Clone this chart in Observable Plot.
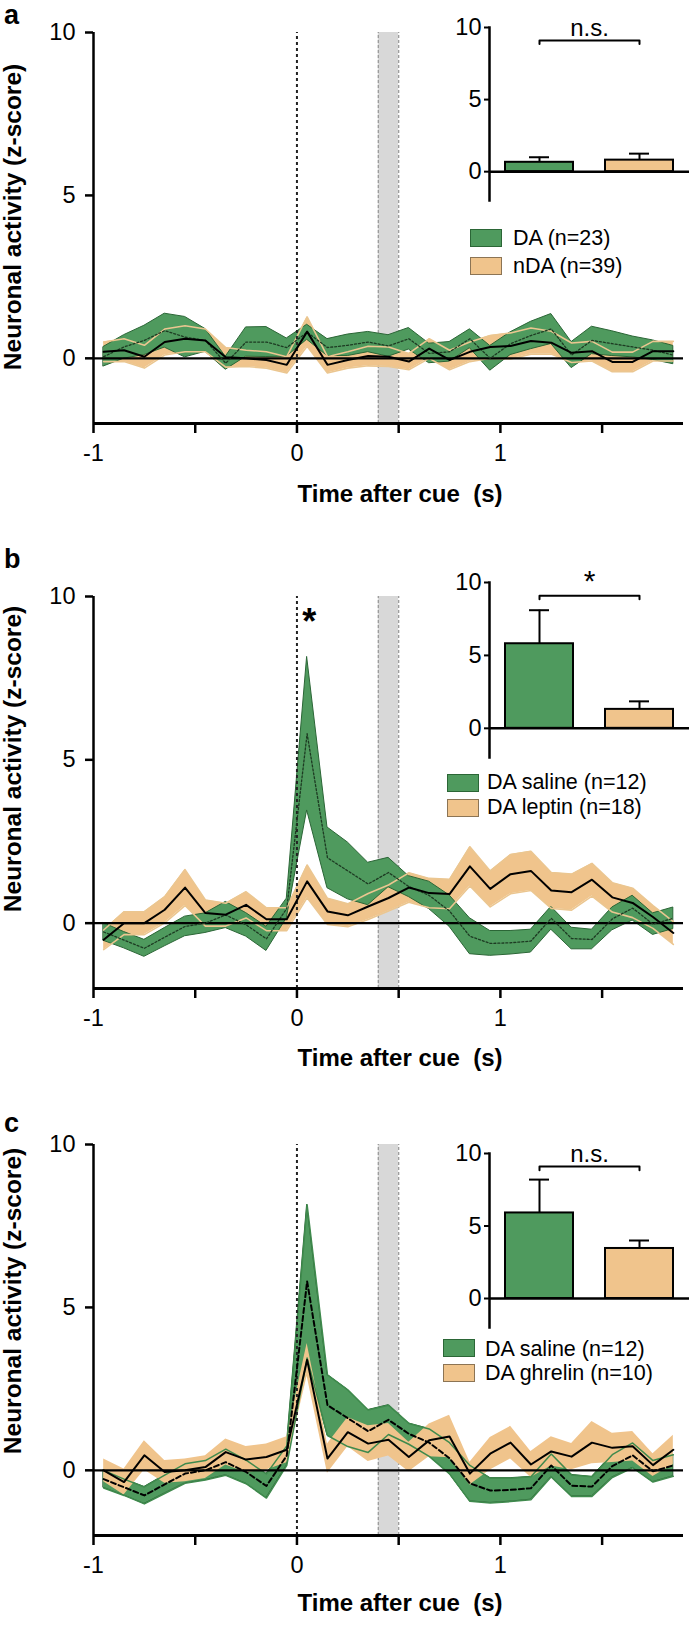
<!DOCTYPE html>
<html>
<head>
<meta charset="utf-8">
<script src="https://cdn.jsdelivr.net/npm/d3@7"></script>
<script src="https://cdn.jsdelivr.net/npm/@observablehq/plot@0.6"></script>
<style>
  body { margin: 0; background: #fff; font-family: "Liberation Sans", Arial, sans-serif; }
  #root { position: relative; width: 691px; height: 1626px; overflow: hidden; background: #fff; }
  #root > * { position: absolute; }
  .letter { font-weight: bold; font-size: 27px; line-height: 27px; }
  .xtitle { font-weight: bold; font-size: 24px; line-height: 24px; width: 300px; text-align: center; white-space: pre; }
  .ytitle { font-weight: bold; font-size: 24.5px; line-height: 26px; width: 400px; height: 26px; text-align: center; transform: rotate(-90deg); white-space: nowrap; }
  .legtext { font-size: 21.5px; line-height: 24px; white-space: nowrap; }
  .sw { box-sizing: border-box; width: 32px; height: 18px; border: 1.5px solid; }
</style>
</head>
<body>
<div id="root"></div>
<script>
// ---------------- data ----------------
const time = [-0.95, -0.85, -0.75, -0.65, -0.55, -0.45, -0.35, -0.25, -0.15, -0.05,
              0.05, 0.15, 0.25, 0.35, 0.45, 0.55, 0.65, 0.75, 0.85, 0.95,
              1.05, 1.15, 1.25, 1.35, 1.45, 1.55, 1.65, 1.75, 1.85];
const xTicks = [-1, -0.5, 0, 0.5, 1, 1.5];
const yTicks = [0, 5, 10];
const xDomain = [-1, 1.9];
const yDomain = [-2, 10];
const cueWindow = [0.4, 0.5];
const cueTime = [0];

// panel a : DA (green) and nDA (tan)
const aGreenMean = [0.05, 0.35, 0.55, 0.85, 0.65, 0.55, -0.15, 0.50, 0.50, 0.33,
                    0.80, 0.33, 0.40, 0.50, 0.38, 0.60, 0.15, 0.20, 0.60, 0.00,
                    0.45, 0.70, 0.90, 0.10, 0.55, 0.45, 0.35, 0.25, 0.10];
const aGreenSem  = [0.30, 0.36, 0.45, 0.52, 0.62, 0.35, 0.20, 0.45, 0.46, 0.28,
                    0.23, 0.26, 0.33, 0.31, 0.33, 0.33, 0.30, 0.30, 0.29, 0.38,
                    0.35, 0.42, 0.46, 0.40, 0.42, 0.38, 0.32, 0.30, 0.28];
const aTanMean   = [0.20, 0.25, 0.05, 0.50, 0.60, 0.55, 0.03, 0.00, -0.05, -0.20,
                    0.82, -0.20, -0.05, 0.07, 0.05, -0.10, 0.30, -0.05, 0.20, 0.35,
                    0.38, 0.53, 0.48, 0.17, 0.22, -0.11, -0.11, 0.22, 0.22];
const aTanSem    = [0.30, 0.35, 0.35, 0.40, 0.40, 0.35, 0.30, 0.25, 0.25, 0.25,
                    0.45, 0.25, 0.25, 0.30, 0.30, 0.25, 0.30, 0.30, 0.30, 0.35,
                    0.40, 0.40, 0.35, 0.30, 0.30, 0.30, 0.30, 0.30, 0.30];

// panels b and c : DA saline (green)
const salineMean = [-0.27, -0.52, -0.77, -0.43, -0.10, 0.00, 0.25, -0.05, -0.48, 0.45,
                    5.80, 2.00, 1.60, 1.20, 1.55, 1.12, 0.85, 0.37, -0.40, -0.62,
                    -0.60, -0.55, 0.15, -0.47, -0.50, 0.13, 0.46, -0.03, 0.15];
const salineSem  = [0.27, 0.25, 0.26, 0.28, 0.30, 0.30, 0.40, 0.36, 0.37, 0.30,
                    2.35, 0.93, 0.87, 0.65, 0.45, 0.32, 0.42, 0.48, 0.55, 0.38,
                    0.36, 0.35, 0.35, 0.33, 0.30, 0.35, 0.38, 0.33, 0.33];
// panel b : DA leptin (tan)
const leptinMean = [-0.51, 0.00, 0.00, 0.41, 1.09, 0.31, 0.26, 0.56, 0.12, 0.12,
                    1.28, 0.36, 0.24, 0.51, 0.77, 1.09, 0.92, 0.89, 1.74, 1.05,
                    1.50, 1.60, 1.00, 0.95, 1.33, 0.79, 0.62, 0.19, -0.30];
const leptinSem  = [0.30, 0.35, 0.35, 0.40, 0.55, 0.40, 0.35, 0.40, 0.35, 0.35,
                    0.50, 0.40, 0.35, 0.40, 0.40, 0.45, 0.45, 0.45, 0.60, 0.55,
                    0.60, 0.60, 0.55, 0.55, 0.50, 0.45, 0.45, 0.35, 0.35];
// panel c : DA ghrelin (tan)
const ghrelinMean = [0.00, -0.36, 0.46, -0.05, 0.00, 0.10, 0.56, 0.33, 0.41, 0.63,
                     3.39, 0.36, 1.17, 0.82, 0.94, 0.41, 0.92, 1.04, -0.10, 0.51,
                     0.85, 0.18, 0.58, 0.42, 0.85, 0.69, 0.74, 0.16, 0.63];
const ghrelinSem  = [0.35, 0.40, 0.45, 0.35, 0.35, 0.35, 0.40, 0.40, 0.40, 0.40,
                     0.50, 0.45, 0.45, 0.55, 0.50, 0.45, 0.50, 0.65, 0.35, 0.50,
                     0.50, 0.40, 0.45, 0.40, 0.65, 0.45, 0.45, 0.35, 0.45];

// insets (mean, upper SEM)
const aBarNames = ["DA", "nDA"];       const aBarValues = [0.65, 0.80]; const aBarErr = [0.35, 0.45];
const bBarNames = ["DA saline", "DA leptin"];  const bBarValues = [5.80, 1.30]; const bBarErr = [2.30, 0.55];
const cBarNames = ["DA saline", "DA ghrelin"]; const cBarValues = [5.90, 3.45]; const cBarErr = [2.30, 0.55];
const sigLabels = ["n.s.", "*", "n.s."];
const bracketY = [8.85, 9.1];
const starT = [0.06]; const starY = [9.2];

const legendA = ["DA (n=23)", "nDA (n=39)"];
const legendB = ["DA saline (n=12)", "DA leptin (n=18)"];
const legendC = ["DA saline (n=12)", "DA ghrelin (n=10)"];

// ---------------- style ----------------
const GREEN = "#4f9a5e", GREEN_DK = "#2b6636", TAN = "#f0c48c", TAN_DK = "#8c7454", TAN_LT = "#ebc690";
const FONT = '"Liberation Sans", Arial, sans-serif';
const root = document.getElementById("root");

function table(mean, sem) {
  return time.map((t, i) => ({t, m: mean[i], lo: mean[i] - sem[i], hi: mean[i] + sem[i]}));
}

function mainPlot({top, y10, yBottom, height, green, tan, tanOnTop, greenDash, star}) {
  const marginTop = y10 - top;
  const marginBottom = height - (yBottom - top);
  const bandMarks = [];
  const greenArea = Plot.areaY(green, {x: "t", y1: "lo", y2: "hi", fill: GREEN, stroke: GREEN_DK, strokeWidth: 1});
  const tanArea = Plot.areaY(tan, {x: "t", y1: "lo", y2: "hi", fill: TAN});
  if (!tanOnTop) {
    bandMarks.push(tanArea, greenArea,
      Plot.lineY(tan, {x: "t", y: "hi", stroke: TAN_LT, strokeWidth: 1.6}),
      Plot.lineY(tan, {x: "t", y: "lo", stroke: TAN_LT, strokeWidth: 1.6}));
  } else {
    bandMarks.push(greenArea, tanArea,
      Plot.lineY(green, {x: "t", y: "hi", stroke: "#3f8a4d", strokeWidth: 1.5}),
      Plot.lineY(green, {x: "t", y: "lo", stroke: "#3f8a4d", strokeWidth: 1.5}));
  }
  const svg = Plot.plot({
    width: 691, height, marginLeft: 93, marginRight: 8, marginTop, marginBottom,
    style: {fontFamily: FONT, fontSize: "23.5px", background: "transparent", color: "black", overflow: "visible"},
    x: {domain: xDomain},
    y: {domain: yDomain},
    marks: [
      Plot.rect([cueWindow], {x1: d => d[0], x2: d => d[1], y1: yDomain[0], y2: yDomain[1], fill: "#d8d8d8"}),
      Plot.ruleX(cueWindow, {y1: yDomain[0], y2: yDomain[1], stroke: "#9c9c9c", strokeWidth: 1.3, strokeDasharray: "3,2"}),
      ...bandMarks,
      Plot.ruleY([0], {stroke: "black", strokeWidth: 2.2}),
      Plot.ruleX(cueTime, {y1: yDomain[0], y2: yDomain[1], stroke: "#222", strokeWidth: 2, strokeDasharray: "3,3"}),
      greenDash
        ? Plot.lineY(green, {x: "t", y: "m", stroke: "black", strokeWidth: 2, strokeDasharray: "5,3"})
        : Plot.lineY(green, {x: "t", y: "m", stroke: "#1d3a22", strokeWidth: 1.3, strokeDasharray: "2,2"}),
      Plot.lineY(tan, {x: "t", y: "m", stroke: "black", strokeWidth: 2}),
      star ? Plot.text(starT.map((t, i) => ({t, y: starY[i]})), {x: "t", y: "y", text: () => "*", fontSize: 36, fontWeight: "bold"}) : null,
      Plot.axisY({ticks: yTicks, tickSize: 8, tickPadding: 10, tickFormat: d => String(d), strokeWidth: 2.5, label: null}),
      Plot.axisX({ticks: xTicks, tickSize: 10, tickPadding: 11, tickFormat: d => Number.isInteger(d) ? String(d) : "", strokeWidth: 2.5, label: null}),
      Plot.ruleX([xDomain[0]], {y1: yDomain[0], y2: yDomain[1], stroke: "black", strokeWidth: 2.5}),
      Plot.ruleY([yDomain[0]], {stroke: "black", strokeWidth: 2.8})
    ]
  });
  svg.style.left = "0px";
  svg.style.top = top + "px";
  root.appendChild(svg);
}

function inset({y10, yBottom, names, values, errs, label}) {
  const bars = names.map((name, i) => ({name, v: values[i], e: values[i] + errs[i], color: i === 0 ? GREEN : TAN}));
  const bracket = [
    {name: names[0], y: bracketY[0]}, {name: names[0], y: bracketY[1]},
    {name: names[1], y: bracketY[1]}, {name: names[1], y: bracketY[0]}
  ];
  const marginTop = 34;
  const top = y10 - marginTop;
  const height = marginTop + (yBottom - y10) + 4;
  const svg = Plot.plot({
    width: 251, height, marginLeft: 49, marginRight: 2, marginTop, marginBottom: 4,
    style: {fontFamily: FONT, fontSize: "23.5px", background: "transparent", color: "black", overflow: "visible"},
    x: {domain: names, paddingInner: 0.32, paddingOuter: 0.16, axis: null},
    y: {domain: yDomain, axis: null},
    marks: [
      Plot.ruleX(bars, {x: "name", y1: "v", y2: "e", stroke: "black", strokeWidth: 2}),
      Plot.tickY(bars, {x: "name", y: "e", stroke: "black", strokeWidth: 2, inset: 24}),
      Plot.barY(bars, {x: "name", y: "v", fill: "color", stroke: "black", strokeWidth: 2}),
      Plot.ruleY([0], {stroke: "black", strokeWidth: 2.5}),
      Plot.frame({anchor: "left", stroke: "black", strokeWidth: 2.5}),
      Plot.axisY({ticks: yTicks, tickSize: 5, tickPadding: 3, tickFormat: d => String(d), strokeWidth: 2, label: null}),
      Plot.line(bracket, {x: "name", y: "y", stroke: "black", strokeWidth: 2}),
      Plot.text([label], {y: bracketY[1] + 0.3, text: d => d, lineAnchor: "bottom", fontSize: label === "*" ? 30 : 24})
    ]
  });
  svg.style.left = "440px";
  svg.style.top = top + "px";
  root.appendChild(svg);
}

function div(cls, text, css) {
  const d = document.createElement("div");
  if (cls) d.className = cls;
  if (text != null) d.textContent = text;
  Object.assign(d.style, css);
  root.appendChild(d);
  return d;
}

function legend(labels, swLeft, swTops, textLeft, textCenters) {
  labels.forEach((lab, i) => {
    div("sw", null, {left: swLeft + "px", top: swTops[i] + "px",
      background: i === 0 ? GREEN : TAN, borderColor: i === 0 ? GREEN_DK : TAN_DK});
    div("legtext", lab, {left: textLeft + "px", top: (textCenters[i] - 12) + "px"});
  });
}

function titles(yCenter, xTitleCenter) {
  div("ytitle", "Neuronal activity (z-score)", {left: (13 - 200) + "px", top: (yCenter - 13) + "px"});
  div("xtitle", "Time after cue  (s)", {left: (400 - 150) + "px", top: (xTitleCenter - 12) + "px"});
}

// ---------------- panel a ----------------
mainPlot({top: 0, y10: 32, yBottom: 423, height: 540, green: table(aGreenMean, aGreenSem), tan: table(aTanMean, aTanSem), tanOnTop: false, greenDash: false, star: false});
inset({y10: 27, yBottom: 200, names: aBarNames, values: aBarValues, errs: aBarErr, label: sigLabels[0]});
legend(legendA, 470, [229, 257], 513, [238, 266]);
titles(217, 494);
div("letter", "a", {left: "4px", top: "2px"});

// ---------------- panel b ----------------
mainPlot({top: 540, y10: 596, yBottom: 988, height: 545, green: table(salineMean, salineSem), tan: table(leptinMean, leptinSem), tanOnTop: false, greenDash: false, star: true});
inset({y10: 582, yBottom: 757, names: bBarNames, values: bBarValues, errs: bBarErr, label: sigLabels[1]});
legend(legendB, 447, [774, 799], 487, [782, 807]);
titles(759, 1058);
div("letter", "b", {left: "4px", top: "546px"});

// ---------------- panel c ----------------
mainPlot({top: 1085, y10: 1144, yBottom: 1535, height: 541, green: table(salineMean, salineSem), tan: table(ghrelinMean, ghrelinSem), tanOnTop: true, greenDash: true, star: false});
inset({y10: 1153, yBottom: 1327, names: cBarNames, values: cBarValues, errs: cBarErr, label: sigLabels[2]});
legend(legendC, 443, [1339, 1364], 485, [1349, 1373]);
titles(1301, 1603);
div("letter", "c", {left: "4px", top: "1110px"});
</script>
</body>
</html>
